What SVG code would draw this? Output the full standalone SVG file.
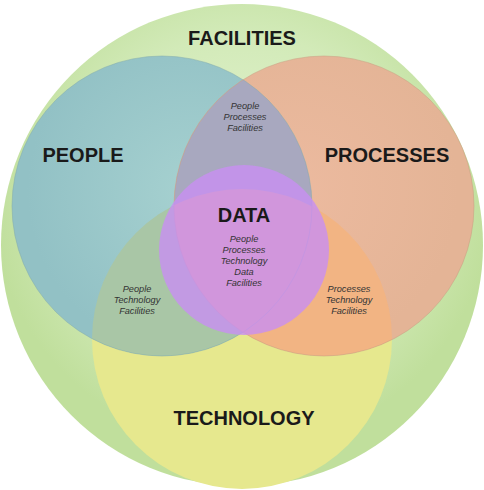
<svg xmlns="http://www.w3.org/2000/svg" width="484" height="490" viewBox="0 0 484 490">
<defs>
<radialGradient id="gOuter" cx="50%" cy="40%" r="52%">
<stop offset="0" stop-color="#e6f4d4"/>
<stop offset="0.65" stop-color="#d2eab8"/>
<stop offset="1" stop-color="#c0df9c"/>
</radialGradient>
<radialGradient id="gPeople" cx="60%" cy="45%" r="55%">
<stop offset="0" stop-color="#a6d1d0"/>
<stop offset="1" stop-color="#92c1c5"/>
</radialGradient>
<radialGradient id="gProc" cx="40%" cy="45%" r="55%">
<stop offset="0" stop-color="#ecba9f"/>
<stop offset="1" stop-color="#e4b496"/>
</radialGradient>
<clipPath id="cPeople"><circle cx="162" cy="206" r="150"/></clipPath>
<clipPath id="cProc"><circle cx="324" cy="206" r="150"/></clipPath>
<clipPath id="cTech"><circle cx="242" cy="339" r="150"/></clipPath>
<style>
.big{font-family:"Liberation Sans",Arial,sans-serif;font-weight:bold;fill:#1a1a1a;text-anchor:middle;font-size:20px}
.sm{font-family:"Liberation Sans",Arial,sans-serif;font-style:italic;font-size:9.2px;fill:#333;text-anchor:middle}
.edge{fill:none;stroke-width:1}
</style>
</defs>
<rect width="484" height="490" fill="#ffffff"/>
<g id="facilities">
<circle cx="242" cy="245" r="241" fill="url(#gOuter)"/>
<text class="big" x="242" y="45">FACILITIES</text>
</g>
<g id="technology">
<circle cx="242" cy="339" r="150" fill="#e6e88e"/>
<text class="big" x="244" y="425">TECHNOLOGY</text>
</g>
<g id="people">
<circle cx="162" cy="206" r="150" fill="url(#gPeople)"/>
<text class="big" x="83" y="162">PEOPLE</text>
</g>
<g id="processes">
<circle cx="324" cy="206" r="150" fill="url(#gProc)"/>
<text class="big" x="387" y="162">PROCESSES</text>
</g>
<g id="overlaps">
<g clip-path="url(#cPeople)"><rect x="0" y="0" width="484" height="490" fill="#a8a8bf" clip-path="url(#cProc)"/></g>
<g clip-path="url(#cPeople)"><rect x="0" y="0" width="484" height="490" fill="#a9c6a6" clip-path="url(#cTech)"/></g>
<g clip-path="url(#cProc)"><rect x="0" y="0" width="484" height="490" fill="#f2b483" clip-path="url(#cTech)"/></g>
<circle class="edge" cx="162" cy="206" r="150" stroke="#7fa9ad" stroke-opacity="0.5"/>
<circle class="edge" cx="324" cy="206" r="150" stroke="#c99c80" stroke-opacity="0.5"/>
</g>
<g id="data">
<circle cx="244" cy="250" r="85" fill="#c88ef3" fill-opacity="0.8"/>
<text class="big" x="244" y="222">DATA</text>
</g>
<g id="labels">
<text class="sm" x="245" y="109">People</text>
<text class="sm" x="245" y="120">Processes</text>
<text class="sm" x="245" y="131">Facilities</text>
<text class="sm" x="244" y="242">People</text>
<text class="sm" x="244" y="253">Processes</text>
<text class="sm" x="244" y="264">Technology</text>
<text class="sm" x="244" y="275">Data</text>
<text class="sm" x="244" y="286">Facilities</text>
<text class="sm" x="137" y="292">People</text>
<text class="sm" x="137" y="303">Technology</text>
<text class="sm" x="137" y="314">Facilities</text>
<text class="sm" x="349" y="292">Processes</text>
<text class="sm" x="349" y="303">Technology</text>
<text class="sm" x="349" y="314">Facilities</text>
</g>
<g id="connectors"/>
</svg>
